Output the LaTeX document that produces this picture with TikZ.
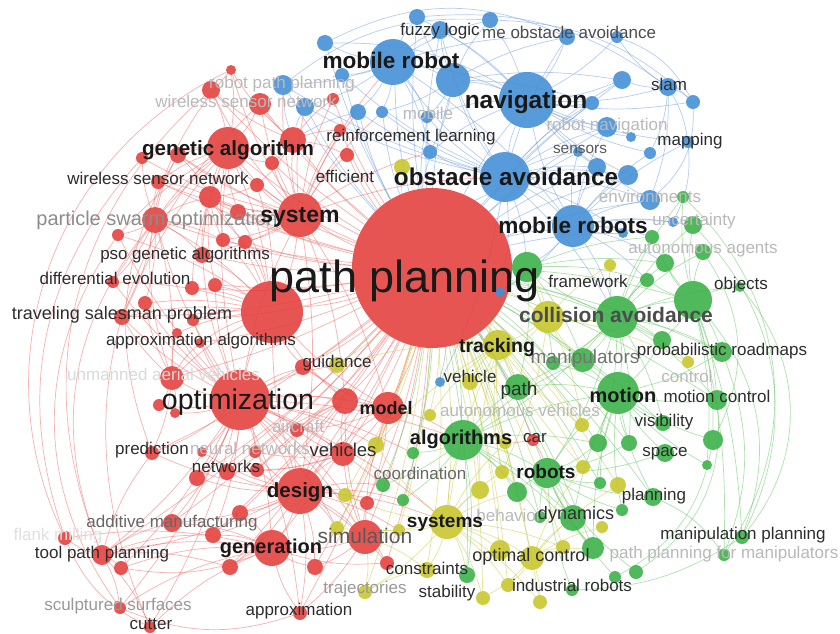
\documentclass[tikz,border=0pt]{standalone}
\usepackage{fontspec}
\setmainfont{Liberation Sans}
\usetikzlibrary{backgrounds}
\definecolor{cr}{RGB}{228,62,60}
\definecolor{cb}{RGB}{66,142,215}
\definecolor{cg}{RGB}{56,176,70}
\definecolor{cy}{RGB}{200,198,40}
\definecolor{ler}{RGB}{238,100,100}
\definecolor{leb}{RGB}{110,155,222}
\definecolor{leg}{RGB}{95,196,95}
\definecolor{ley}{RGB}{205,205,75}
\definecolor{tdark}{RGB}{25,25,25}
\definecolor{tmid}{RGB}{45,45,45}
\definecolor{tfaint}{RGB}{185,185,185}
\newcommand{\fsz}[1]{\fontsize{#1}{#1}\selectfont}
\tikzset{
 nr/.style={circle,inner sep=0,fill=cr,fill opacity=.88,minimum size=#1},
 nb/.style={circle,inner sep=0,fill=cb,fill opacity=.88,minimum size=#1},
 ng/.style={circle,inner sep=0,fill=cg,fill opacity=.88,minimum size=#1},
 ny/.style={circle,inner sep=0,fill=cy,fill opacity=.88,minimum size=#1},
 er/.style={draw=ler,draw opacity=.5,line width=.7pt},
 eb/.style={draw=leb,draw opacity=.5,line width=.7pt},
 eg/.style={draw=leg,draw opacity=.5,line width=.7pt},
 ey/.style={draw=ley,draw opacity=.55,line width=.7pt},
 lb/.style={inner sep=0,anchor=base,text=tdark},
 lbb/.style={inner sep=0,anchor=base,text=tdark,font=\bfseries},
 ls/.style={inner sep=0,anchor=mid,text=tmid,font=\fsz{17}},
 lf/.style={inner sep=0,anchor=mid,text=tfaint,font=\fsz{17}},
}
\begin{document}
\begin{tikzpicture}[x=1pt,y=-1pt]
\useasboundingbox (0,0) rectangle (840,633);
% ---------- nodes ----------
\foreach \n/\x/\y/\r in {r0/432/268/80, r1/272/312/31, r2/240/400/30, r3/300/215/22, r4/228/148/21, r5/300/491/23, r6/272/548/18, r7/365/537/17, r8/388/408/16, r9/345/401/13, r10/343/454/12, r11/293/140/13, r12/260/104/11, r13/211/90/9, r14/231/70/5, r15/333/99/6, r16/340/130/6, r17/347/155/7, r18/272/163/7, r19/178/155/8, r20/142/158/6, r21/158/182/7, r22/257/185/7, r23/210/197/11, r24/155/220/13, r25/238/212/8, r26/118/235/6, r27/223/240/7, r28/245/242/7, r30/202/255/8, r31/113/282/6, r32/192/288/7, r33/215/285/7, r34/145/303/7, r35/122/317/8, r36/193/320/6, r37/177/333/5, r38/200/343/5, r39/172/378/12, r40/159/405/6, r41/175/413/5, r42/303/367/8, r43/297/430/7, r44/152/453/7, r45/202/452/5, r46/255/452/6, r47/227/472/8, r48/197/478/8, r49/257/470/7, r50/367/503/7, r51/240/513/8, r52/172/523/9, r53/213/535/8, r54/65/538/7, r55/102/555/10, r56/121/568/7, r57/230/567/8, r58/315/567/8, r59/387/563/7, r60/120/608/6, r61/150/627/6, r62/300/613/7, r63/533/440/6}
  \node[nr=2*\r pt] (\n) at (\x,\y) {};
\foreach \n/\x/\y/\r in {b1/393/62/23, b2/453/80/17, b3/527/100/28, b4/505/177/25, b5/573/226/21, b6/417/17/8, b7/490/20/8, b8/440/30/9, b9/567/37/8, b10/617/37/6, b11/325/43/8, b12/283/85/10, b13/305/107/9, b14/342/75/7, b15/358/112/8, b16/382/112/6, b17/427/117/6, b18/430/152/7, b19/622/80/9, b20/668/87/9, b21/693/102/7, b22/592/103/7, b23/607/127/10, b24/631/137/5, b25/650/153/6, b26/688/142/6, b27/578/152/5, b28/597/167/9, b29/628/175/10, b30/650/200/10, b31/440/382/5, b32/500/292/5, b33/623/233/5, b34/673/222/5}
  \node[nb=2*\r pt] (\n) at (\x,\y) {};
\foreach \n/\x/\y/\r in {g1/617/317/21, g2/693/300/19, g3/527/267/15, g4/618/393/21, g5/463/440/20, g6/547/473/15, g7/573/518/13, g8/518/387/13, g9/583/360/12, g10/553/363/7, g11/662/340/9, g12/722/352/10, g13/717/400/10, g14/663/423/8, g15/598/443/9, g16/629/443/8, g17/713/440/10, g18/665/453/9, g19/707/465/5, g20/517/492/10, g21/600/483/6, g22/653/497/9, g23/622/510/6, g24/540/517/6, g25/593/548/11, g26/467/575/8, g27/615/577/6, g28/636/572/7, g29/742/537/7, g30/724/555/6, g31/572/590/6, g32/413/453/6, g33/383/485/7, g34/403/500/6, g35/665/263/9, g36/703/252/8, g37/693/225/9, g38/652/237/7, g39/647/280/7, g40/740/287/5, g41/683/197/6}
  \node[ng=2*\r pt] (\n) at (\x,\y) {};
\foreach \n/\x/\y/\r in {y1/402/167/8, y2/548/317/16, y3/498/345/15, y4/610/265/6, y5/688/362/6, y7/470/382/8, y8/337/365/8, y9/376/445/8, y10/502/472/7, y11/345/495/7, y12/447/522/17, y13/337/528/7, y14/399/530/6, y15/427/570/8, y16/500/550/10, y17/532/558/12, y18/563/547/7, y19/508/585/7, y20/483/598/7, y21/540/602/7, y23/365/592/7, y24/582/425/7, y25/583/467/7, y26/618/485/8, y27/602/527/6, y28/480/490/9, y34/505/443/6, y35/430/415/6}
  \node[ny=2*\r pt] (\n) at (\x,\y) {};
% ---------- edges ----------
\begin{scope}[on background layer]
\fill[white] (0,0) rectangle (840,633);
\foreach \t in {r1,r2,r3,r4,r5,r6,r7,r8,r9,r10,r11,r12,r13,r15,r16,r17,r18,r19,r21,r22,r23,r24,r25,r27,r28,r30,r32,r33,r35,r36,r38,r39,r42,r43,r44,r47,r48,r49,r50,r51,r52,r53,r55,r57,r58,r59,r62,r63}
  \draw[er] (r0) to[bend left=6] (\t);
\foreach \t in {b1,b2,b3,b4,b5,b6,b8,b11,b12,b13,b14,b15,b16,b17,b18,b19,b22,b23,b27,b28,b29,b30,b31,b32,b33}
  \draw[eb] (r0) to[bend left=6] (\t);
\foreach \t in {g1,g2,g3,g4,g5,g6,g7,g8,g9,g10,g11,g12,g13,g14,g15,g16,g20,g21,g22,g24,g25,g26,g32,g33,g34}
  \draw[eg] (r0) to[bend left=6] (\t);
\foreach \t in {y1,y2,y3,y7,y8,y9,y10,y11,y12,y13,y14,y15,y16,y17,y18,y19,y20,y21,y23,y24,y25,y26,y28,y34,y35}
  \draw[ey] (r0) to[bend left=6] (\t);
\foreach \t in {r1,r3,r4,r5,r6,r7,r8,r9,r10,r24,r26,r30,r31,r33,r34,r35,r36,r37,r38,r39,r40,r41,r42,r43,r44,r45,r46,r47,r48,r52,r53,r55,r56,r60,r61,r62}
  \draw[er] (r2) to[bend left=8] (\t);
\foreach \t in {y8,y9,y11,y12,y13}
  \draw[er] (r2) to[bend left=8] (\t);
\foreach \t in {g5,g32,g33}
  \draw[er] (r2) to[bend left=8] (\t);
\foreach \t in {r3,r4,r5,r8,r9,r22,r23,r24,r25,r26,r27,r28,r30,r31,r32,r33,r34,r35,r36,r37,r38,r39,r42}
  \draw[er] (r1) to[bend right=8] (\t);
\foreach \t in {r4,r5,r8,r9,r11,r12,r13,r14,r15,r16,r17,r18,r19,r20,r21,r22,r23,r24,r25,r27,r28,r30}
  \draw[er] (r3) to[bend left=8] (\t);
\foreach \t in {b1,b4,b12,b13,b15,b16,b18}
  \draw[er] (r3) to[bend left=8] (\t);
\foreach \t in {r11,r12,r13,r14,r18,r19,r20,r21,r22,r23,r24,r25,r26,r27,r30,r31,r35}
  \draw[er] (r4) to[bend right=8] (\t);
\foreach \t in {r19,r20,r21,r23,r26,r27,r30,r31,r34,r35,r39}
  \draw[er] (r24) to[bend left=8] (\t);
\foreach \t in {r19,r21,r22,r25,r27,r28,r30,r32,r33}
  \draw[er] (r23) to[bend right=8] (\t);
\foreach \t in {r34,r35,r37,r38,r40,r41,r44}
  \draw[er] (r39) to[bend left=8] (\t);
\foreach \t in {r6,r7,r8,r9,r10,r43,r44,r45,r46,r47,r48,r49,r50,r51,r52,r53,r55,r57,r58,r59,r62}
  \draw[er] (r5) to[bend left=8] (\t);
\foreach \t in {y11,y12,y13,y14,g33,g34}
  \draw[er] (r5) to[bend left=8] (\t);
\foreach \t in {r7,r51,r52,r53,r54,r55,r56,r57,r58,r59,r60,r61,r62}
  \draw[er] (r6) to[bend right=10] (\t);
\foreach \t in {r44,r52,r53,r54,r56,r57,r60,r61}
  \draw[er] (r55) to[bend left=10] (\t);
\foreach \t in {r8,r9,r10,r50,r58,r59,r62}
  \draw[er] (r7) to[bend left=8] (\t);
\foreach \t in {y11,y13,y14,y15,y23}
  \draw[ey] (r7) to[bend left=8] (\t);
\foreach \t in {r9,r10,r42,r43,r50}
  \draw[er] (r8) to[bend left=8] (\t);
\foreach \t in {r42,r43,r10,r46,r49}
  \draw[er] (r9) to[bend right=8] (\t);
\foreach \t in {r12,r13,r14,r15,r16,r17,r18,r22}
  \draw[er] (r11) to[bend left=8] (\t);
\foreach \t in {b12,b13,b15}
  \draw[eb] (r11) to[bend left=8] (\t);
\foreach \t in {r43,r46,r47,r49}
  \draw[er] (r10) to[bend left=8] (\t);
\draw[er] (r14) to[bend right=45] (r54);
\draw[er] (r13) to[bend right=35] (r55);
\draw[er] (r20) to[bend right=30] (r54);
\draw[er] (r26) to[bend right=35] (r60);
\draw[er] (r14) to[bend right=30] (r39);
\draw[er] (r24) to[bend right=30] (r55);
\draw[er] (r12) to[bend right=35] (r61);
\draw[er] (r19) to[bend right=25] (r44);
\draw[er] (r54) to[bend right=20] (r61);
\draw[er] (r60) to[bend right=20] (r62);
\draw[er] (r56) to[bend right=15] (r6);
% blue
\foreach \t in {b1,b2,b3,b5,b8,b9,b12,b13,b14,b15,b16,b17,b18,b19,b22,b23,b27,b28,b29,b30,b31,b32,b33}
  \draw[eb] (b4) to[bend left=8] (\t);
\foreach \t in {b1,b2,b5,b6,b7,b8,b9,b10,b17,b18,b19,b20,b21,b22,b23,b24,b25,b26,b28,b29,b30}
  \draw[eb] (b3) to[bend right=8] (\t);
\foreach \t in {b2,b5,b6,b7,b8,b9,b11,b12,b13,b14,b15,b16,b17,b18}
  \draw[eb] (b1) to[bend left=8] (\t);
\foreach \t in {b23,b25,b26,b27,b28,b29,b30,b32,b33,b34}
  \draw[eb] (b5) to[bend left=8] (\t);
\foreach \t in {b10,b19,b21,b25,b26,b30}
  \draw[eb] (b20) to[bend left=10] (\t);
\foreach \t in {b6,b7,b8,b9,b16,b17,b18,b19,b22}
  \draw[eb] (b2) to[bend left=8] (\t);
\foreach \t in {g1,g3,g35,g37,g38,g39}
  \draw[eb] (b5) to[bend left=8] (\t);
\draw[eb] (b11) to[bend left=25] (b9);
\draw[eb] (b6) to[bend left=20] (b20);
\draw[eb] (b7) to[bend left=20] (b21);
\draw[eb] (b10) to[bend left=20] (b21);
\draw[eb] (b21) to[bend left=25] (b30);
\draw[eb] (b12) to[bend left=20] (b7);
\draw[eb] (b11) to[bend left=15] (b3);
\draw[eb] (b26) to[bend left=15] (b34);
\draw[eb] (b4) to[bend left=8] (g1);
\draw[eb] (b4) to[bend left=8] (g3);
% green
\foreach \t in {g2,g3,g4,g5,g6,g8,g9,g10,g11,g12,g13,g14,g15,g16,g35,g36,g37,g38,g39,g40,g41}
  \draw[eg] (g1) to[bend left=8] (\t);
\foreach \t in {g5,g6,g7,g8,g9,g10,g11,g12,g13,g14,g15,g16,g17,g18,g19,g21,g22,g23,g25}
  \draw[eg] (g4) to[bend right=8] (\t);
\foreach \t in {g11,g12,g13,g17,g19,g29,g30,g35,g36,g37,g38,g39,g40,g41}
  \draw[eg] (g2) to[bend left=8] (\t);
\foreach \t in {g6,g7,g8,g9,g15,g20,g24,g25,g26,g32,g33,g34}
  \draw[eg] (g5) to[bend left=8] (\t);
\foreach \t in {g7,g15,g16,g18,g20,g21,g22,g23,g24,g25,g27,g28,g31}
  \draw[eg] (g6) to[bend right=8] (\t);
\foreach \t in {g8,g9,g10,g35,g38,g39}
  \draw[eg] (g3) to[bend left=8] (\t);
\foreach \t in {y2,y4,y5}
  \draw[eg] (g1) to[bend left=8] (\t);
\draw[eg] (g37) to[bend left=35] (g29);
\draw[eg] (g41) to[bend left=40] (g30);
\draw[eg] (g36) to[bend left=30] (g17);
\draw[eg] (g2) to[bend left=30] (g29);
\draw[eg] (g12) to[bend left=20] (g30);
\draw[eg] (g13) to[bend left=30] (g28);
\draw[eg] (g17) to[bend left=25] (g27);
\draw[eg] (g40) to[bend left=40] (g29);
\draw[eg] (g29) to[bend left=15] (g31);
\draw[eg] (g22) to[bend left=15] (g30);
% yellow
\foreach \t in {y3,y9,y10,y11,y13,y14,y15,y16,y17,y18,y19,y20,y21,y23,y28,y34}
  \draw[ey] (y12) to[bend left=8] (\t);
\foreach \t in {y2,y7,y8,y9,y10,y24,y25,y28,y34,y35}
  \draw[ey] (y3) to[bend right=8] (\t);
\foreach \t in {y16,y18,y19,y20,y21,y25,y26,y27}
  \draw[ey] (y17) to[bend left=8] (\t);
\foreach \t in {y4,y5,y7,y10,y24}
  \draw[ey] (y2) to[bend left=8] (\t);
\foreach \t in {g25,g7}
  \draw[ey] (y17) to[bend left=8] (\t);
\foreach \t in {g5,g26,g20}
  \draw[ey] (y12) to[bend left=8] (\t);
\foreach \t in {g1,g9,g3}
  \draw[ey] (y2) to[bend right=8] (\t);
\draw[ey] (y3) to[bend left=8] (g8);
\draw[ey] (y23) to[bend left=10] (y15);
\draw[er] (r63) to[bend left=8] (g5);
\draw[er] (r63) to[bend left=8] (g6);
\draw[er] (r8) to[bend left=8] (g5);
\end{scope}
% ---------- labels ----------
\node[lf] (f1) at (282,86) {robot path planning};
\node[lf] (f2) at (246,105) {wireless sensor network};
\node[lf] (f3) at (428,117) {mobile};
\node[lf] (f4) at (607,128) {robot navigation};
\node[lf] (f5) at (650,200) {environments};
\node[lf] (f6) at (694,223) {uncertainty};
\node[lf] (f7) at (703,251) {autonomous agents};
\node[lf] (f8) at (687,380) {control};
\node[lf] (f9) at (724,556) {path planning for manipulators};
\node[lf,text=black!40] (f10) at (365,591) {trajectories};
\node[lf] (f11) at (298,430) {aircraft};
\node[lf] (f12) at (509,519) {behavior};
\node[lf] (f13) at (520,414) {autonomous vehicles};
\node[lf] (f14) at (250,452) {neural networks};
\node[lf,anchor=mid west,text=black!15] (f15) at (67,378) {unmanned aerial vehicles};
\node[lf,text=black!12] (f16) at (58,538) {flank milling};
\node[lf,text=black!40] (f17) at (118,608) {sculptured surfaces};
\node[ls] (s1) at (440,33) {fuzzy logic};
\node[ls,anchor=mid west,text=black!70] (s2) at (482,36) {me obstacle avoidance};
\node[ls] (s3) at (411,139) {reinforcement learning};
\node[ls] (s4) at (345,180) {efficient};
\node[ls] (s5) at (158,182) {wireless sensor network};
\node[ls] (s6) at (669,88) {slam};
\node[ls] (s7) at (690,143) {mapping};
\node[ls,font=\fsz{15.4},text=black!65] (s8) at (580,151) {sensors};
\node[ls] (s9) at (588,285) {framework};
\node[ls] (s10) at (741,287) {objects};
\node[ls] (s11) at (722,353) {probabilistic roadmaps};
\node[ls,font=\fsz{19},text=black!55] (s12) at (585,361) {manipulators};
\node[ls] (s13) at (470,380) {vehicle};
\node[ls,font=\fsz{19}] (s14) at (519,393) {path};
\node[ls] (s15) at (717,400) {motion control};
\node[ls] (s16) at (664,424) {visibility};
\node[ls] (s17) at (665,454) {space};
\node[ls] (s18) at (654,498) {planning};
\node[ls] (s19) at (743,537) {manipulation planning};
\node[ls,font=\fsz{18}] (s20) at (531,559) {optimal control};
\node[ls] (s21) at (572,589) {industrial robots};
\node[ls,font=\fsz{18}] (s22) at (576,517) {dynamics};
\node[ls] (s23) at (535,440) {car};
\node[ls] (s24) at (427,572) {constraints};
\node[ls] (s25) at (447,595) {stability};
\node[ls,text=black!60] (s26) at (420,477) {coordination};
\node[ls,font=\fsz{18.5}] (s27) at (343,454) {vehicles};
\node[ls] (s28) at (337,365) {guidance};
\node[ls] (s29) at (299,613) {approximation};
\node[ls] (s30) at (151,627) {cutter};
\node[ls] (s31) at (102,556) {tool path planning};
\node[ls,text=black!60] (s32) at (172,525) {additive manufacturing};
\node[ls] (s33) at (226,470) {networks};
\node[ls] (s34) at (152,452) {prediction};
\node[ls] (s35) at (201,343) {approximation algorithms};
\node[ls,font=\fsz{18}] (s36) at (122,317) {traveling salesman problem};
\node[ls] (s37) at (115,282) {differential evolution};
\node[ls] (s38) at (114,257) {pso};
\node[ls] (s39) at (201,257) {genetic algorithms};
\node[ls,font=\fsz{20},text=black!45] (s40) at (157,223) {particle swarm optimization};
\node[lb,font=\fsz{45}] (L1) at (405,292) {path planning};
\node[lb,font=\fsz{28.5}] (L2) at (238,409) {optimization};
\node[lbb,font=\bfseries\fsz{24.5}] (L3) at (526,108) {navigation};
\node[lbb,font=\bfseries\fsz{24.3}] (L4) at (506,185) {obstacle avoidance};
\node[lbb,font=\bfseries\fsz{22.6}] (L5) at (391,68) {mobile robot};
\node[lbb,font=\bfseries\fsz{22.6}] (L6) at (573,233) {mobile robots};
\node[lbb,font=\bfseries\fsz{20.6}] (L7) at (228,155) {genetic algorithm};
\node[lbb,font=\bfseries\fsz{23}] (L8) at (300,222) {system};
\node[lbb,font=\bfseries\fsz{21},text=black!70] (L9) at (616,322) {collision avoidance};
\node[lbb,font=\bfseries\fsz{19.5}] (L10) at (497,352) {tracking};
\node[lbb,font=\bfseries\fsz{20}] (L11) at (623,402) {motion};
\node[lbb,font=\bfseries\fsz{18}] (L12) at (386,414) {model};
\node[lbb,font=\bfseries\fsz{20}] (L13) at (461,444) {algorithms};
\node[lbb,font=\bfseries\fsz{19}] (L14) at (546,478) {robots};
\node[lbb,font=\bfseries\fsz{19}] (L15) at (445,527) {systems};
\node[lbb,font=\bfseries\fsz{20.5}] (L16) at (300,497) {design};
\node[lbb,font=\bfseries\fsz{20}] (L17) at (271,553) {generation};
\node[lb,font=\fsz{21},text=black!65] (L18) at (365,543) {simulation};
\end{tikzpicture}
\end{document}
